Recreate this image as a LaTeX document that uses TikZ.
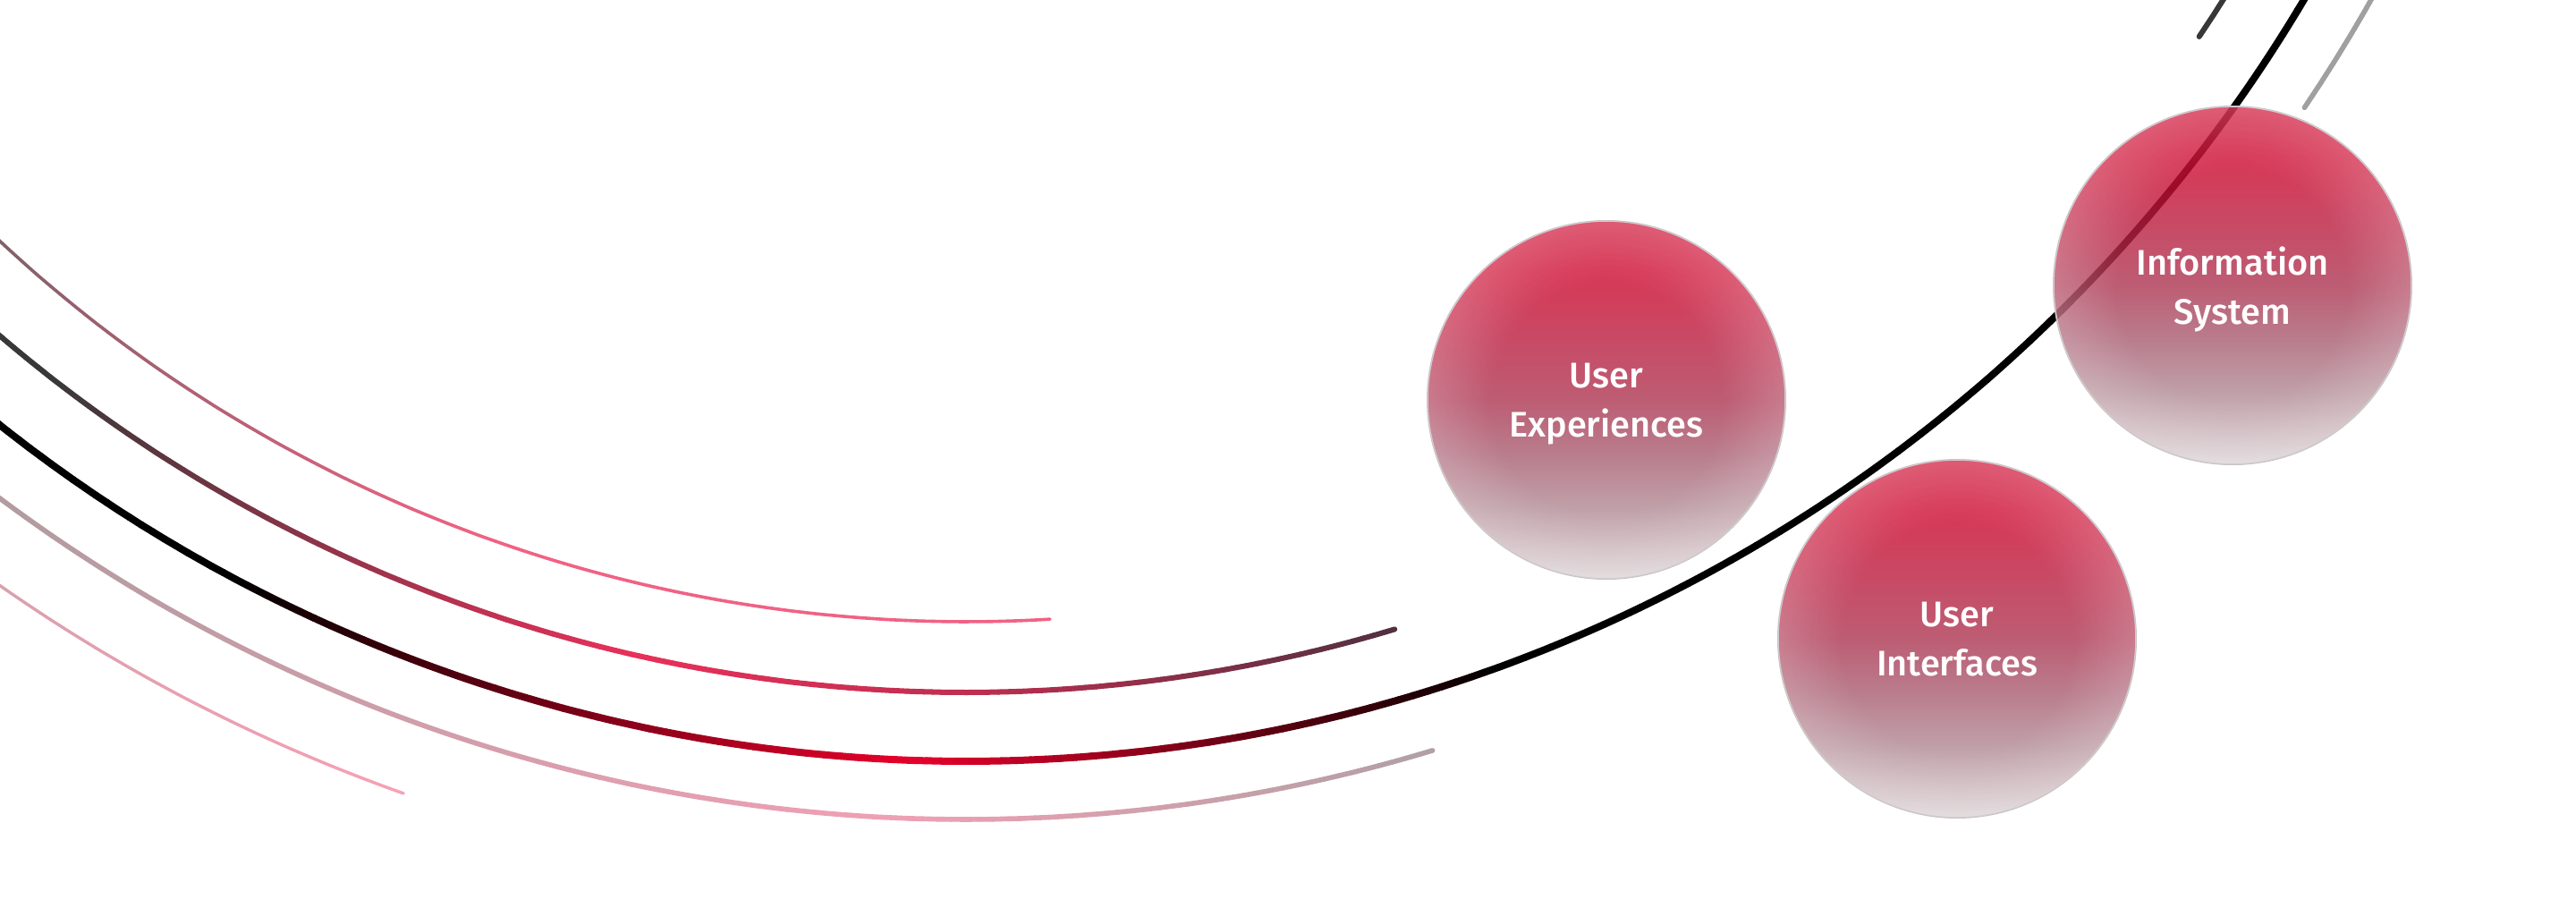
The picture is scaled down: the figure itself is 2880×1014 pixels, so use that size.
\documentclass[tikz,border=0pt]{standalone}
\usepackage{fontspec}
\setmainfont{Fira Sans}
\newfontfamily\ballfont{Fira Sans Medium}
\usepackage{tikz}
\usetikzlibrary{fadings}
\definecolor{ballbot}{RGB}{214,204,207}
\definecolor{ballc2}{RGB}{176,136,146}
\definecolor{ballc3}{RGB}{168,92,112}
\definecolor{ballc4}{RGB}{172,52,80}
\definecolor{ballc5}{RGB}{186,30,64}
\definecolor{ballc6}{RGB}{204,4,42}
\definecolor{ballrim}{HTML}{C8C2C4}
\definecolor{arcgray}{HTML}{606060}
\definecolor{arcpink}{HTML}{F06284}
\definecolor{arcdark}{HTML}{383838}
\definecolor{arcscarlet}{HTML}{E8305A}
\definecolor{arccrimson}{HTML}{C02E50}
\definecolor{arcplum}{HTML}{503040}
\definecolor{arcred}{HTML}{E8002C}
\definecolor{arcsilver}{HTML}{9C9A9A}
\definecolor{arcrose}{HTML}{F0A0B4}
\definecolor{arcmauve}{HTML}{B0A0A4}
\definecolor{arcblush}{HTML}{C8A0AA}
\definecolor{arcflamingo}{HTML}{F8A0B4}
\definecolor{arclight}{HTML}{A0A0A0}
\pgfdeclareverticalshading{ballshade}{100bp}{color(0bp)=(ballbot); color(25bp)=(ballbot); color(35bp)=(ballc2); color(42.5bp)=(ballc3); color(50bp)=(ballc4); color(58bp)=(ballc5); color(68bp)=(ballc6); color(75bp)=(ballc6); color(100bp)=(ballc6)}
\pgfdeclareradialshading{rimshade}{\pgfpointorigin}{color(0bp)=(black); color(16bp)=(black); color(25bp)=(black!76); color(50bp)=(black!76)}
\pgfdeclarefading{rimfade}{\pgfuseshading{rimshade}}
\newcommand{\fadearc}[6]{%
  \foreach \k in {0,...,39}{
    \pgfmathsetmacro\aa{#2+(#3-#2)*\k/40}
    \pgfmathsetmacro\ab{#2+(#3-#2)*(\k+1)/40}
    \pgfmathtruncatemacro\pc{100*(\k+0.5)/40}
    \draw[line width=#6, line cap=round, color=#5!\pc!#4] ([shift={(\aa:#1)}]ctr) arc[start angle=\aa, end angle=\ab, radius=#1];
  }}

\begin{document}
\begin{tikzpicture}[
  x=0.01cm, y=-0.01cm,
  ball/.style={circle, minimum size=4cm, inner sep=0pt, shade, shading=ballshade, draw=ballrim, line width=0.5pt, fill opacity=0.8, draw opacity=1, text opacity=1, text=white, align=center, text depth=0pt, font=\ballfont\fontsize{11.3}{15.6}\selectfont, postaction={fill=white, path fading=rimfade}}
]
\useasboundingbox (0,0) rectangle (2880,1014);
\clip (0,0) rectangle (2880,1014);
\coordinate (ctr) at (1080,-889);

\fadearc{1884}{135}{109.5}{arcblush}{arcflamingo}{0.034cm}
\fadearc{1805}{138}{93}{arcsilver}{arcrose}{0.056cm}
\fadearc{1805}{93}{73.2}{arcrose}{arcmauve}{0.056cm}
\fadearc{1805}{34}{27}{arclight}{arclight}{0.056cm}
\fadearc{1740}{138}{118}{black}{black}{0.08cm}
\fadearc{1740}{118}{92}{black}{arcred}{0.08cm}
\fadearc{1740}{92}{70}{arcred}{black}{0.08cm}
\fadearc{1740}{70}{28}{black}{black}{0.08cm}
\fadearc{1663}{140}{128}{arcdark}{arcdark}{0.06cm}
\fadearc{1663}{128}{103}{arcdark}{arcscarlet}{0.06cm}
\fadearc{1663}{103}{90}{arcscarlet}{arccrimson}{0.06cm}
\fadearc{1663}{90}{73.25}{arccrimson}{arcplum}{0.06cm}
\fadearc{1663}{34}{29}{arcdark}{arcdark}{0.06cm}
\fadearc{1584}{140}{110}{arcgray}{arcpink}{0.036cm}
\fadearc{1584}{110}{86.6}{arcpink}{arcpink}{0.036cm}

\node[ball] (ux) at (1796,447) {User\\Experiences};
\node[ball] (is) at (2496,319) {Information\\System};
\node[ball] (ui) at (2188,714) {User\\Interfaces};
\end{tikzpicture}
\end{document}
